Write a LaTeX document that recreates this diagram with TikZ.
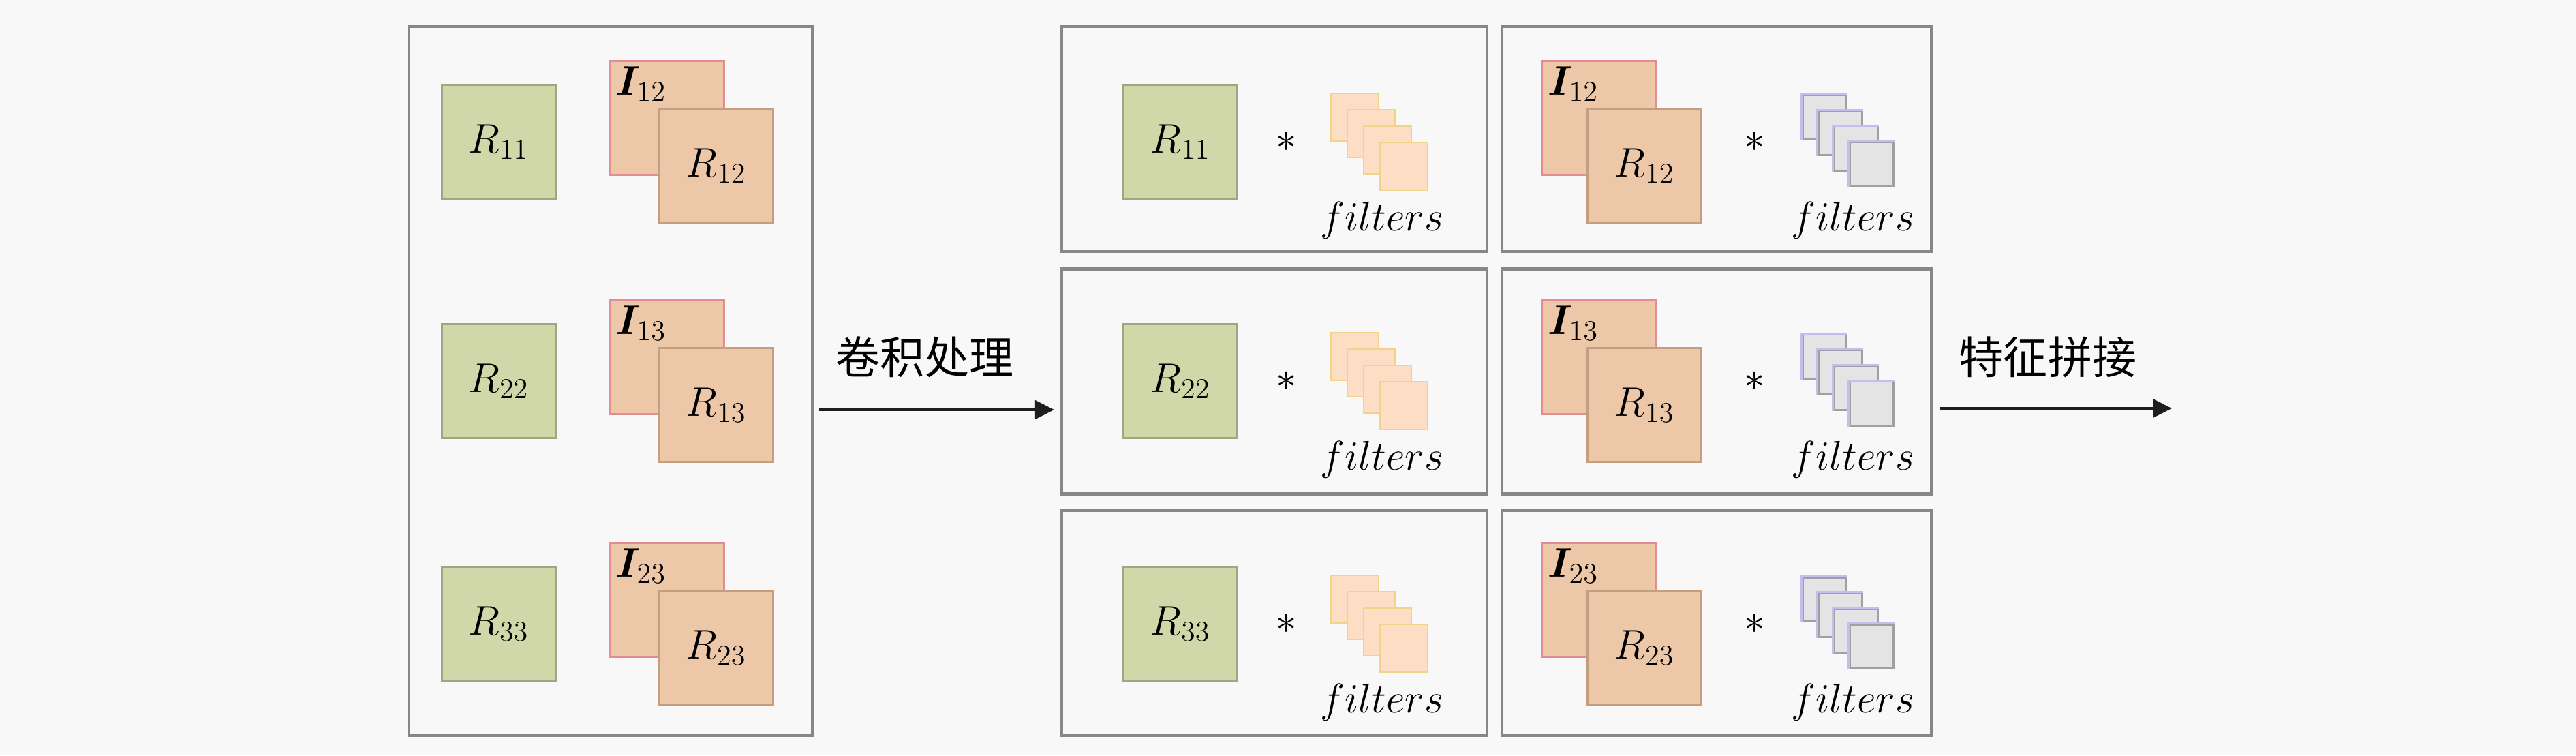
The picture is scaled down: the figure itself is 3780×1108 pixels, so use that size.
\documentclass[tikz,border=0pt]{standalone}
\usepackage{amsmath,bm}
\usepackage{fontspec}
\newfontfamily\cjk{Noto Sans CJK SC}
\usetikzlibrary{arrows.meta}
\definecolor{bgc}{RGB}{248,248,248}
\definecolor{framec}{RGB}{135,135,135}
\definecolor{greenf}{RGB}{208,215,168}
\definecolor{greend}{RGB}{160,166,132}
\definecolor{orangef}{RGB}{237,200,168}
\definecolor{oranged}{RGB}{196,158,128}
\definecolor{pinkd}{RGB}{226,140,150}
\definecolor{peachf}{RGB}{253,222,196}
\definecolor{peachd}{RGB}{240,212,140}
\definecolor{grayf}{RGB}{228,228,228}
\definecolor{grayd}{RGB}{160,160,160}
\definecolor{purpled}{RGB}{196,190,240}
\tikzset{
  frame/.style={draw=framec, line width=0.045cm, inner sep=0},
  gsq/.style={draw=greend, fill=greenf, line width=0.03cm, minimum size=1.67cm, inner sep=0, font=\LARGE},
  osqb/.style={draw=pinkd, fill=orangef, line width=0.03cm, minimum size=1.67cm, inner sep=0, font=\LARGE},
  osqf/.style={draw=oranged, fill=orangef, line width=0.03cm, minimum size=1.67cm, inner sep=0, font=\LARGE},
  psq/.style={draw=peachd, fill=peachf, line width=0.025cm, minimum size=0.70cm, inner sep=0},
  gfsq/.style={draw=grayd, fill=grayf, line width=0.03cm, minimum size=0.64cm, inner sep=0},
  lbl/.style={font=\LARGE, inner sep=0},
  cjklbl/.style={font=\cjk\fontsize{18.5}{22}\selectfont, inner sep=0},
  conn/.style={line width=0.045cm, draw={rgb,255:red,30;green,30;blue,30}, -{Triangle[length=0.28cm,width=0.27cm]}},
}
\begin{document}
\begin{tikzpicture}[x=0.01cm, y=-0.01cm]
\fill[bgc] (0,0) rectangle (3780,1108);
\useasboundingbox (0,0) rectangle (3780,1108);
% frames
\node[frame, minimum width=5.92cm, minimum height=10.39cm] (L) at (896,558.5) {};
\foreach \r/\c in {1/204,2/559.5,3/914} {
  \node[frame, minimum width=6.24cm, minimum height=3.30cm] (M\r) at (1870,\c) {};
  \node[frame, minimum width=6.30cm, minimum height=3.30cm] (RB\r) at (2519,\c) {};
}
% rows
\foreach \r/\y/\ga/\gb in {1/208/11/12, 2/559/22/13, 3/915/33/23} {
  % left column
  \node[gsq] (lg\r) at (732,\y) {$R_{\ga}$};
  \node[osqb] (lb\r) at (979,\y-35) {};
  \node[lbl, anchor=north west] (li\r) at ([shift={(9,9)}]lb\r.north west) {$\bm{I}_{\gb}$};
  \node[osqf] (lf\r) at (1051,\y+35) {$R_{\gb}$};
  % middle column
  \node[gsq] (mg\r) at (1732,\y) {$R_{\ga}$};
  \node[lbl] (ma\r) at (1888,\y) {$\ast$};
  \foreach \k in {0,...,3} {
    \node[psq] (mf\r-\k) at (1988+24*\k, \y-36+24*\k) {};
  }
  \node[lbl, anchor=base] (mt\r) at (2028,\y+130) {$filters$};
  % right column
  \node[osqb] (rb\r) at (2346,\y-35) {};
  \node[lbl, anchor=north west] (ri\r) at ([shift={(10,9)}]rb\r.north west) {$\bm{I}_{\gb}$};
  \node[osqf] (rf\r) at (2413,\y+35) {$R_{\gb}$};
  \node[lbl] (ra\r) at (2575,\y) {$\ast$};
  \foreach \k in {0,...,3} {
    \node[gfsq] (rl\r-\k) at (2677+23*\k, \y-36+23*\k) {};
    \draw[purpled, line width=0.03cm] (rl\r-\k.south west) -- (rl\r-\k.north west) -- (rl\r-\k.north east);
  }
  \node[lbl, anchor=base] (rt\r) at (2719,\y+130) {$filters$};
}
% arrows
\node[cjklbl] (t1) at (1357,524) {卷积处理};
\coordinate (a1s) at (1202,601);
\coordinate (a1e) at (1547,601);
\draw[conn] (a1s) -- (a1e);
\node[cjklbl] (t2) at (3005,524) {特征拼接};
\coordinate (a2s) at (2847,599);
\coordinate (a2e) at (3187,599);
\draw[conn] (a2s) -- (a2e);
\end{tikzpicture}
\end{document}
